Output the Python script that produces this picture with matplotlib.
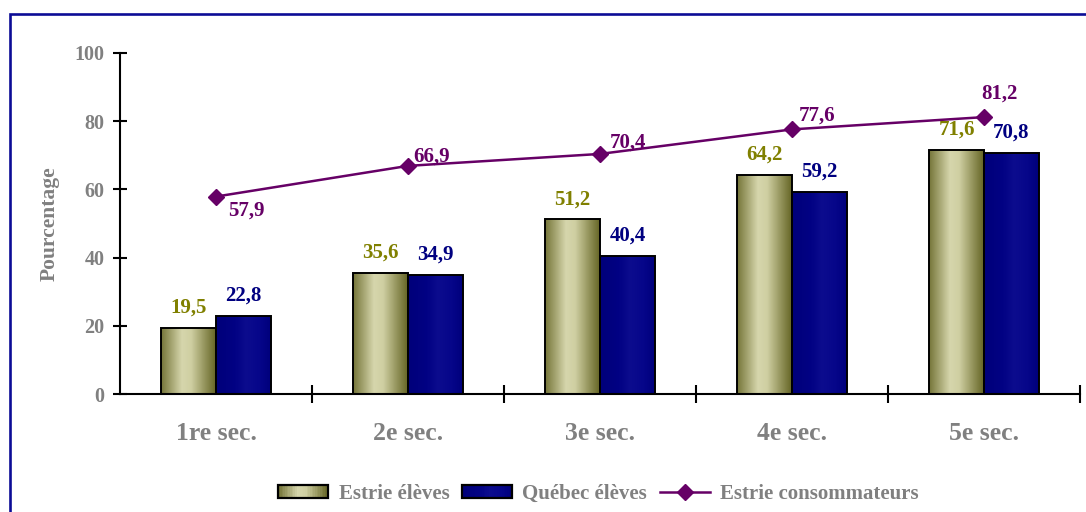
import numpy as np
import matplotlib
matplotlib.use("Agg")
import matplotlib.pyplot as plt
from matplotlib.colors import LinearSegmentedColormap
from matplotlib.patches import Rectangle, Patch
from matplotlib.lines import Line2D
from matplotlib.legend_handler import HandlerBase

# Données
categories = ["1re sec.", "2e sec.", "3e sec.", "4e sec.", "5e sec."]
estrie_eleves = [19.5, 35.6, 51.2, 64.2, 71.6]
quebec_eleves = [22.8, 34.9, 40.4, 59.2, 70.8]
estrie_conso = [57.9, 66.9, 70.4, 77.6, 81.2]
serie_noms = ["Estrie élèves", "Québec élèves", "Estrie consommateurs"]
y_ticks = [0, 20, 40, 60, 80, 100]

# Couleurs
OLIVE_TXT = "#808000"
NAVY_TXT = "#000080"
PURPLE = "#660066"
GRAY = "#808080"

olive_cmap = LinearSegmentedColormap.from_list(
    "olive", [(0, "#76763a"), (0.38, "#d6d6ac"), (0.55, "#cfcfa2"), (1, "#666626")])
navy_cmap = LinearSegmentedColormap.from_list(
    "navy", [(0, "#00007a"), (0.35, "#020284"), (0.55, "#0c0c8e"), (0.8, "#06068a"), (1, "#00007c")])

# décalages des étiquettes de la courbe (points)
conso_offsets = [(22, -14), (17, 3), (20, 4.5), (18, 6), (11, 13)]

plt.rcParams["font.family"] = ["Liberation Serif", "DejaVu Serif"]
plt.rcParams["font.weight"] = "bold"
plt.rcParams["axes.labelweight"] = "bold"


class GradientHandler(HandlerBase):
    def __init__(self, cmap):
        super().__init__()
        self.cmap = cmap

    def create_artists(self, legend, orig_handle, xdescent, ydescent,
                       width, height, fontsize, trans):
        n = 30
        arts = []
        for i in range(n):
            r = Rectangle((-xdescent + i * width / n, -ydescent), width / n * 1.1, height,
                          facecolor=self.cmap(i / (n - 1)), edgecolor="none",
                          linewidth=0, transform=trans)
            arts.append(r)
        arts.append(Rectangle((-xdescent, -ydescent), width, height, facecolor="none",
                              edgecolor="black", linewidth=1.6, transform=trans))
        return arts


def gradient_bars(ax, bars, cmap):
    grad = np.linspace(0, 1, 64).reshape(1, -1)
    for b in bars:
        x0, y0 = b.get_x(), b.get_y()
        im = ax.imshow(grad, cmap=cmap, aspect="auto", zorder=2,
                       extent=[x0, x0 + b.get_width(), y0, y0 + b.get_height()])
        im.set_clip_path(b)
        b.set_facecolor("none")
        b.set_zorder(3)


def fmt(v):
    return f"{v:.1f}".replace(".", ",")


def main():
    fig = plt.figure(figsize=(10.86, 5.12), dpi=100)
    W, H = 1086, 512
    ax = fig.add_axes([120 / W, 1 - 394 / H, 960 / W, 341 / H])

    # cadre bleu
    fig.patches.append(Rectangle((10 / W, -0.1), 1.2, 1 - 13.5 / H + 0.1,
                                 transform=fig.transFigure, fill=False,
                                 edgecolor="#0c0c96", linewidth=1.9))

    x = np.arange(len(categories))
    w = 0.286
    b1 = ax.bar(x - w / 2, estrie_eleves, w, edgecolor="black", linewidth=1.4)
    b2 = ax.bar(x + w / 2, quebec_eleves, w, edgecolor="black", linewidth=1.4)
    gradient_bars(ax, b1, olive_cmap)
    gradient_bars(ax, b2, navy_cmap)

    ax.plot(x, estrie_conso, color=PURPLE, linewidth=1.8, marker="D",
            markersize=8, zorder=5)

    for xi, v in zip(x, estrie_eleves):
        ax.annotate(fmt(v), (xi - w / 2, v), xytext=(0, 11),
                    textcoords="offset points", ha="center", va="baseline",
                    fontsize=15, fontweight="bold", color=OLIVE_TXT)
    for xi, v in zip(x, quebec_eleves):
        ax.annotate(fmt(v), (xi + w / 2, v), xytext=(0, 11),
                    textcoords="offset points", ha="center", va="baseline",
                    fontsize=15, fontweight="bold", color=NAVY_TXT)
    for xi, v, off in zip(x, estrie_conso, conso_offsets):
        ax.annotate(fmt(v), (xi, v), xytext=off,
                    textcoords="offset points", ha="center", va="baseline",
                    fontsize=15, fontweight="bold", color=PURPLE, zorder=6)

    ax.set_xlim(-0.5, len(categories) - 0.5)
    ax.set_ylim(0, 100)
    ax.set_yticks(y_ticks)
    ax.set_xticks(x + 0.5)
    ax.set_xticklabels([])
    ax.set_xticks(x, minor=True)
    ax.set_xticklabels(categories, minor=True, fontweight="bold")

    ax.tick_params(axis="y", direction="inout", length=10, width=1.5,
                   labelsize=14.5, labelcolor=GRAY, pad=6)
    ax.tick_params(axis="x", which="major", direction="inout", length=13, width=1.5)
    ax.tick_params(axis="x", which="minor", length=0, labelsize=18.5,
                   labelcolor=GRAY, pad=20)
    for t in ax.get_yticklabels():
        t.set_fontweight("bold")

    for s in ["top", "right"]:
        ax.spines[s].set_visible(False)
    for s in ["left", "bottom"]:
        ax.spines[s].set_linewidth(1.5)

    ax.set_ylabel("Pourcentage", fontsize=15.5, fontweight="bold", color=GRAY, va="center")
    ax.yaxis.set_label_coords(-0.073, 0.5)

    h1 = Patch(label=serie_noms[0])
    h2 = Patch(label=serie_noms[1])
    h3 = Line2D([], [], color=PURPLE, linewidth=1.8, marker="D", markersize=8,
                label=serie_noms[2])
    fig.legend(handles=[h1, h2, h3], loc="center", bbox_to_anchor=(0.551, 0.035),
               ncol=3, frameon=False, prop={"size": 15, "weight": "bold"},
               labelcolor=GRAY, handlelength=2.4, handleheight=0.6,
               handletextpad=0.5, columnspacing=0.6,
               handler_map={h1: GradientHandler(olive_cmap),
                            h2: GradientHandler(navy_cmap)})

    fig.savefig("out.png", dpi=100)


if __name__ == "__main__":
    main()
